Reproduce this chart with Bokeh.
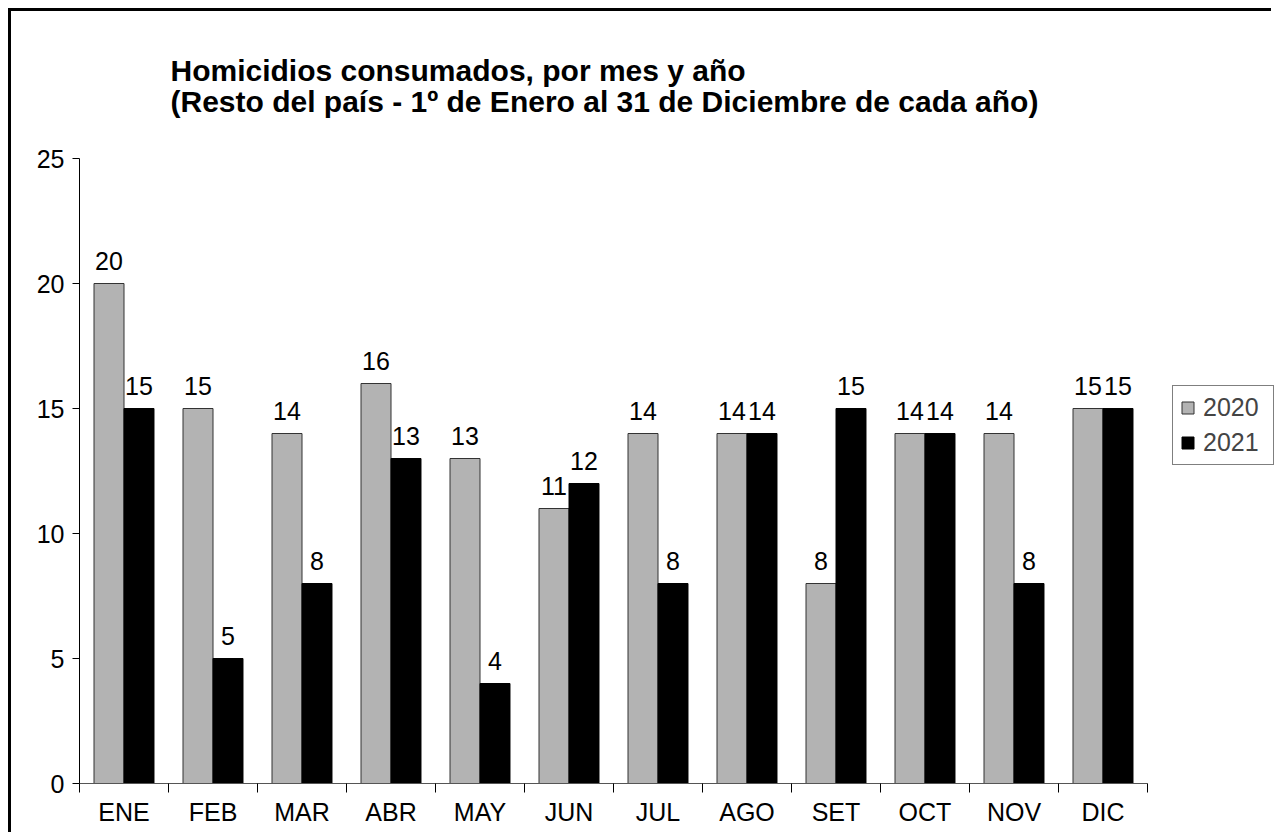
from bokeh.plotting import figure
from bokeh.models import (Range1d, FixedTicker, LinearAxis, Legend, LegendItem,
                          Title, ColumnDataSource)
from bokeh.transform import dodge
from bokeh.core.properties import value
from bokeh.embed import file_html
from bokeh.resources import INLINE

# ---- data ----
months = ["ENE", "FEB", "MAR", "ABR", "MAY", "JUN", "JUL", "AGO", "SET", "OCT", "NOV", "DIC"]
v2020 = [20, 15, 14, 16, 13, 11, 14, 14, 8, 14, 14, 15]
v2021 = [15, 5, 8, 13, 4, 12, 8, 14, 15, 14, 8, 15]
y_ticks = [0, 5, 10, 15, 20, 25]
series_names = ["2020", "2021"]
title_text = ("Homicidios consumados, por mes y año\n"
              "(Resto del país - 1º de Enero al 31 de Diciembre de cada año)")

FONT = "Liberation Sans"
GRAY = "#b3b3b3"

# layout constants (pixels)
W, H = 1263, 824
LEFT, TOP, BOTTOM = 68, 147, 52
CAT_PX = 89.0  # width of one month slot
n = len(months)
x_start = -0.5
x_end = x_start + (W - LEFT) / CAT_PX  # frame runs to the right edge; axis is bounded

xs = list(range(n))
src = ColumnDataSource(dict(
    x=xs, month=months, v2020=v2020, v2021=v2021,
    l2020=[str(v) for v in v2020], l2021=[str(v) for v in v2021],
))

p = figure(width=W, height=H,
           x_range=Range1d(x_start, x_end), y_range=Range1d(0, 25),
           output_backend="svg", toolbar_location=None,
           x_axis_type=None, y_axis_type=None, title=None,
           min_border_left=LEFT, min_border_right=0,
           min_border_top=TOP, min_border_bottom=BOTTOM)
p.margin = (11, 0, 0, 11)
p.styles = {"box-shadow": "-3px -3px 0px 0px black"}
p.outline_line_color = None
p.xgrid.visible = False
p.ygrid.visible = False
p.background_fill_color = "white"
p.border_fill_color = "white"

BW = 0.337
OFF = BW / 2
r1 = p.vbar(x=dodge("x", -OFF), top="v2020", width=BW, bottom=0, source=src,
            fill_color=GRAY, line_color="#333333", line_width=1)
r2 = p.vbar(x=dodge("x", OFF), top="v2021", width=BW, bottom=0, source=src,
            fill_color="black", line_color="black", line_width=1)

for fld, lbl, off in (("v2020", "l2020", -OFF), ("v2021", "l2021", OFF)):
    p.text(x=dodge("x", off), y=dodge(fld, 0.9), text=lbl, source=src,
           text_align="center", text_baseline="alphabetic",
           text_font=value(FONT), text_font_size="25px", text_color="black")

# x axis: labels at centers, ticks at month boundaries (minor ticks)
xaxis = LinearAxis(ticker=FixedTicker(ticks=xs, minor_ticks=[i - 0.5 for i in range(n + 1)]),
                   bounds=(x_start, n - 0.5))
xaxis.major_label_overrides = {i: m for i, m in zip(xs, months)}
xaxis.major_tick_line_color = None
xaxis.major_tick_in = 0
xaxis.major_tick_out = 0
xaxis.minor_tick_in = 0
xaxis.minor_tick_out = 9
xaxis.minor_tick_line_color = "black"
xaxis.axis_line_color = "#555555"
xaxis.major_label_standoff = 5
xaxis.major_label_text_font = FONT
xaxis.major_label_text_font_size = "25px"
xaxis.major_label_text_color = "black"
p.add_layout(xaxis, "below")

yaxis = LinearAxis(ticker=FixedTicker(ticks=y_ticks, minor_ticks=[]))
yaxis.major_tick_in = 0
yaxis.major_tick_out = 7
yaxis.minor_tick_line_color = None
yaxis.axis_line_color = "black"
yaxis.major_tick_line_color = "black"
yaxis.major_label_standoff = 8
yaxis.major_label_text_font = FONT
yaxis.major_label_text_font_size = "25px"
yaxis.major_label_text_color = "black"
p.add_layout(yaxis, "left")

title = Title(text=title_text, align="left", offset=91, standoff=80,
              text_font=FONT, text_font_size="30px", text_font_style="bold",
              text_color="black", text_line_height=0.95)
p.add_layout(title, "above")

legend = Legend(items=[LegendItem(label=series_names[0], renderers=[r1]),
                       LegendItem(label=series_names[1], renderers=[r2])],
                location=(1093, 318))
legend.border_line_color = "black"
legend.border_line_width = 1
legend.background_fill_color = "white"
legend.background_fill_alpha = 1
legend.label_text_font = FONT
legend.label_text_font_size = "25px"
legend.glyph_width = 15
legend.glyph_height = 15
legend.label_standoff = 8
legend.label_width = 63
legend.label_height = 28
legend.padding = 7
legend.spacing = 6
legend.margin = 0
p.add_layout(legend)

open("out.html", "w").write(file_html(p, INLINE))
